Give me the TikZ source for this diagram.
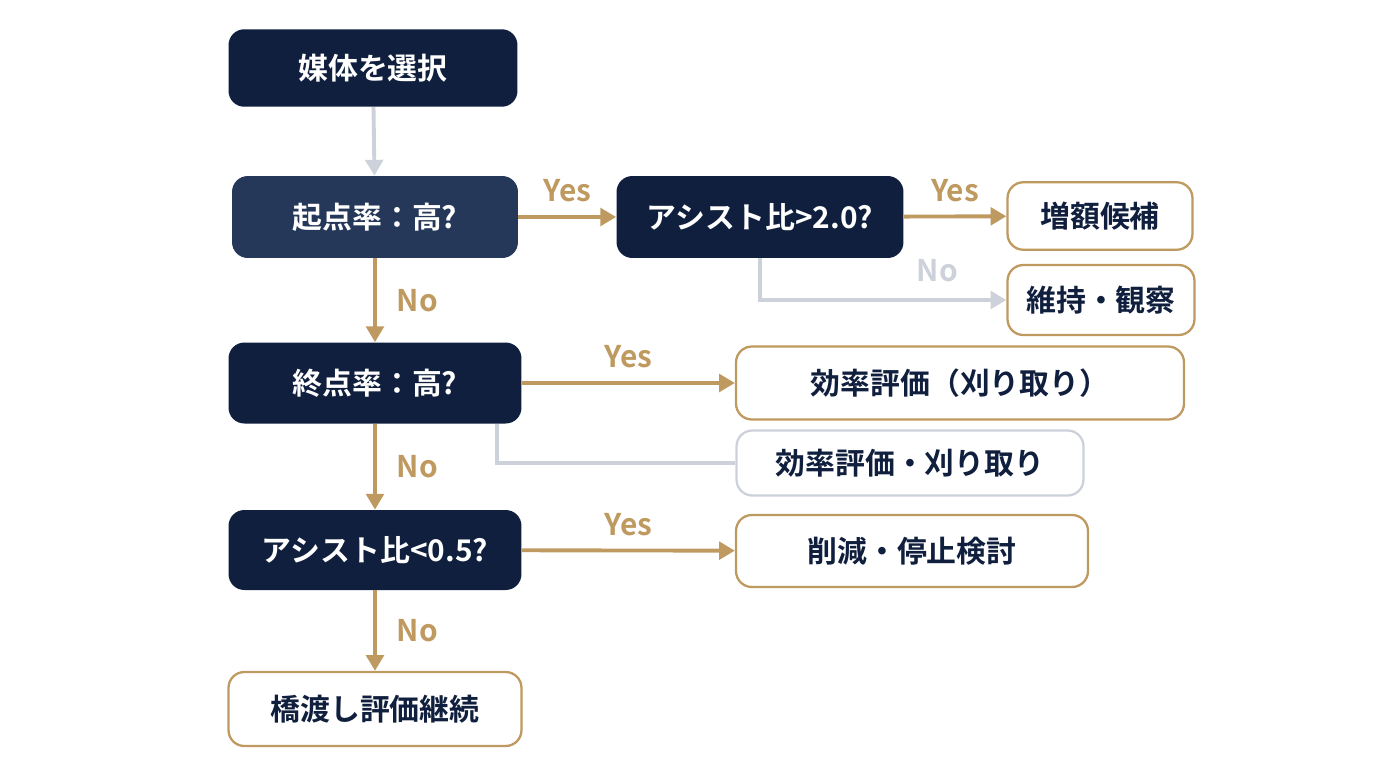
\documentclass[tikz,border=0pt]{standalone}
\usepackage{fontspec}
\setmainfont{Noto Sans CJK JP}[BoldFont={* Bold}]
\usetikzlibrary{arrows.meta}
\definecolor{navy}{HTML}{0F1F3D}
\definecolor{slate}{HTML}{263859}
\definecolor{gold}{HTML}{BF9A60}
\definecolor{mist}{HTML}{CDD1DA}
\tikzset{
  box/.style={rounded corners=9pt, minimum height=1.55cm, inner sep=0pt, font=\fontsize{17}{20}\selectfont\bfseries},
  dark/.style={box, fill=navy, text=white},
  leaf/.style={box, draw=gold, line width=1.3pt, fill=white, text=navy, minimum height=1.35cm},
  go/.style={gold, line width=2.2pt, -{Triangle[length=9pt,width=10pt]}},
  lab/.style={font=\fontsize{17}{20}\selectfont\bfseries}
}
\begin{document}
\begin{tikzpicture}[x=0.02cm,y=-0.02cm]
    \useasboundingbox (0,0) rectangle (1376,768);
    % Decision boxes
    \node[dark, minimum width=5.78cm] (select) at (373,68) {媒体を選択};
    \node[dark, fill=slate, minimum width=5.72cm, minimum height=1.64cm] (start) at (375,217) {起点率：高?};
    \node[dark, minimum width=5.74cm, minimum height=1.64cm] (hi) at (760,217) {アシスト比>2.0?};
    \node[dark, minimum width=5.86cm, minimum height=1.62cm] (end) at (375,383) {終点率：高?};
    \node[dark, minimum width=5.86cm, minimum height=1.6cm] (lo) at (375,550) {アシスト比<0.5?};
    % Outcome boxes
    \node[leaf, minimum width=3.7cm] (inc) at (1100,216) {増額候補};
    \node[leaf, minimum width=3.74cm, minimum height=1.4cm] (keep) at (1101,300) {維持・観察};
    \node[leaf, minimum width=8.96cm, minimum height=1.46cm] (eff1) at (960,383) {効率評価（刈り取り）};
    \node[leaf, draw=mist, minimum width=6.94cm, minimum height=1.3cm] (eff2) at (910,463) {効率評価・刈り取り};
    \node[leaf, minimum width=7.04cm, minimum height=1.44cm] (cut) at (912,551) {削減・停止検討};
    \node[leaf, minimum width=5.86cm, minimum height=1.48cm] (bridge) at (375,709) {橋渡し評価継続};
    % Connectors
    \draw[go, mist] (select) -- (start);
    \draw[go] (start) -- node[above=4pt, lab, text=gold] {Yes} (hi);
    \draw[go] (hi) -- node[above=4pt, lab, text=gold] {Yes} (inc);
    \draw[go, mist] (hi.south) |- (keep.west) node[pos=0.86, above=6pt, lab, text=mist] {No};
    \draw[go] (start) -- node[right=8pt, lab, text=gold] {No} (end);
    \draw[go] (end) -- node[above=4pt, lab, text=gold] {Yes} (eff1);
    \coordinate (endfoot) at (497,424);
    \draw[mist, line width=2.2pt] (endfoot) |- (eff2.west);
    \draw[go] (end) -- node[right=8pt, lab, text=gold] {No} (lo);
    \draw[go] (lo) -- node[above=4pt, lab, text=gold] {Yes} (cut);
    \draw[go] (lo) -- node[right=8pt, lab, text=gold] {No} (bridge);
\end{tikzpicture}
\end{document}
